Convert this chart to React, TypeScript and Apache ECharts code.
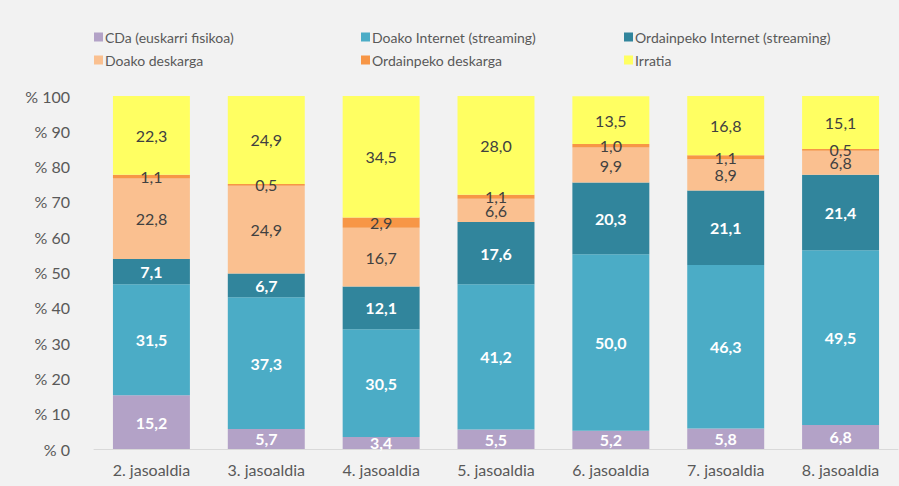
import React, { useEffect, useRef } from "react";
import * as echarts from "echarts";

const categories = ["2. jasoaldia", "3. jasoaldia", "4. jasoaldia", "5. jasoaldia", "6. jasoaldia", "7. jasoaldia", "8. jasoaldia"];
const seriesNames = ["CDa (euskarri fisikoa)", "Doako Internet (streaming)", "Ordainpeko Internet (streaming)", "Doako deskarga", "Ordainpeko deskarga", "Irratia"];
const cda = [15.2, 5.7, 3.4, 5.5, 5.2, 5.8, 6.8];
const doakoInternet = [31.5, 37.3, 30.5, 41.2, 50.0, 46.3, 49.5];
const ordainpekoInternet = [7.1, 6.7, 12.1, 17.6, 20.3, 21.1, 21.4];
const doakoDeskarga = [22.8, 24.9, 16.7, 6.6, 9.9, 8.9, 6.8];
const ordainpekoDeskarga = [1.1, 0.5, 2.9, 1.1, 1.0, 1.1, 0.5];
const irratia = [22.3, 24.9, 34.5, 28.0, 13.5, 16.8, 15.1];
const yTicks = [0, 10, 20, 30, 40, 50, 60, 70, 80, 90, 100];

const values = [cda, doakoInternet, ordainpekoInternet, doakoDeskarga, ordainpekoDeskarga, irratia];
const colors = ["#b3a2c7", "#4bacc6", "#31859c", "#fac090", "#f79646", "#ffff62"];
const labelColors = ["#ffffff", "#ffffff", "#ffffff", "#404040", "#404040", "#404040"];
const labelWeights = ["bold", "bold", "bold", "normal", "normal", "normal"];
const legendPos = [
  { left: 94, top: 30 },
  { left: 361, top: 30 },
  { left: 624, top: 30 },
  { left: 94, top: 53 },
  { left: 361, top: 53 },
  { left: 624, top: 53 },
];

const FONT = "Lato, 'Noto Sans', sans-serif";

export default function App() {
  const ref = useRef<HTMLDivElement>(null);
  useEffect(() => {
    document.body.style.margin = "0";
    const chart = echarts.init(ref.current!, null, { renderer: "svg" });
    chart.setOption({
      animation: false,
      backgroundColor: "#f2f2f2",
      textStyle: { fontFamily: FONT },
      legend: seriesNames.map((n, i) => ({
        data: [n],
        left: legendPos[i].left,
        top: legendPos[i].top,
        padding: 0,
        itemWidth: 9,
        itemHeight: 9,
        itemGap: 2,
        icon: "rect",
        textStyle: { fontSize: 14, color: "#595959", fontFamily: FONT, padding: [0, 0, 0, -3] },
      })),
      grid: { left: 94, right: 1, top: 96, bottom: 37 },
      xAxis: {
        type: "category",
        data: categories,
        axisTick: { show: false },
        axisLine: { lineStyle: { color: "#d9d9d9", width: 1 } },
        axisLabel: { color: "#595959", fontSize: 16, margin: 12, fontFamily: FONT },
      },
      yAxis: {
        type: "value",
        min: 0,
        max: 100,
        interval: 10,
        splitLine: { show: false },
        axisLine: { show: false },
        axisTick: { show: false },
        axisLabel: {
          color: "#595959",
          fontSize: 16,
          margin: 24,
          fontFamily: FONT,
          formatter: (v: number) => (yTicks.includes(v) ? "% " + v : ""),
        },
      },
      series: seriesNames.map((n, i) => ({
        name: n,
        type: "bar",
        stack: "total",
        barWidth: "67%",
        data: values[i],
        itemStyle: { color: colors[i] },
        label: {
          show: true,
          position: "inside",
          color: labelColors[i],
          fontWeight: labelWeights[i],
          fontSize: 16,
          fontFamily: FONT,
          formatter: (p: any) => Number(p.value).toFixed(1).replace(".", ","),
        },
      })),
    });
    return () => chart.dispose();
  }, []);
  return <div ref={ref} style={{ width: 899, height: 486 }} />;
}
